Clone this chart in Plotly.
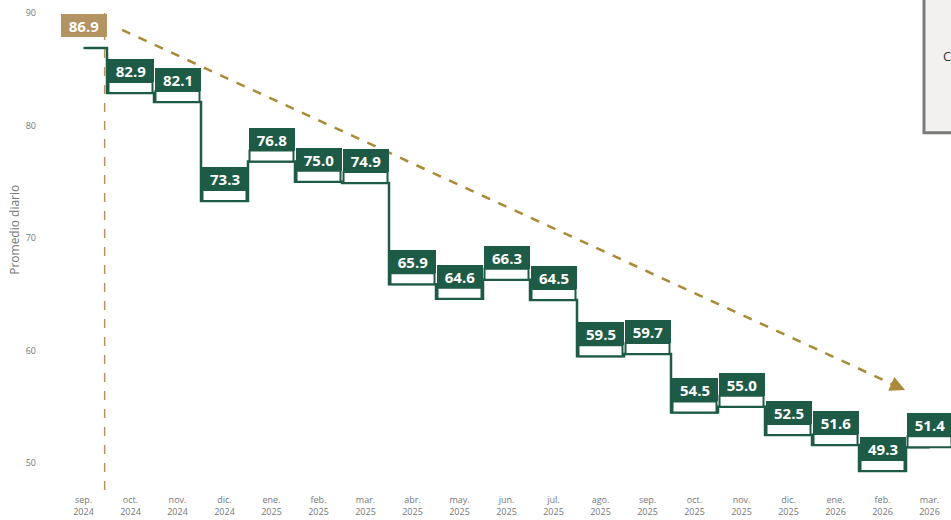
import plotly.graph_objects as go

months = ["sep.<br>2024", "oct.<br>2024", "nov.<br>2024", "dic.<br>2024", "ene.<br>2025",
          "feb.<br>2025", "mar.<br>2025", "abr.<br>2025", "may.<br>2025", "jun.<br>2025",
          "jul.<br>2025", "ago.<br>2025", "sep.<br>2025", "oct.<br>2025", "nov.<br>2025",
          "dic.<br>2025", "ene.<br>2026", "feb.<br>2026", "mar.<br>2026"]
values = [86.9, 82.9, 82.1, 73.3, 76.8, 75.0, 74.9, 65.9, 64.6, 66.3,
          64.5, 59.5, 59.7, 54.5, 55.0, 52.5, 51.6, 49.3, 51.4]
y_ticks = [50, 60, 70, 80, 90]
trend_x = [0.82, 17.48]
trend_y = [88.5, 56.5]

GREEN = "#1e5b46"
TAN = "#b39362"
GOLD = "#a88a37"

xs = list(range(len(values)))

fig = go.Figure()
fig.add_trace(go.Scatter(x=xs, y=values, mode="lines", line_shape="hvh",
                         line=dict(color=GREEN, width=2.5), hoverinfo="skip",
                         showlegend=False))

# separator dashed line between first and second month
fig.add_shape(type="line", xref="x", yref="paper", x0=0.45, x1=0.45, y0=0, y1=0.99,
              line=dict(color=TAN, width=1.5, dash="dash"))

# trend arrow (dashed)
fig.add_shape(type="line", xref="x", yref="y", x0=trend_x[0], y0=trend_y[0],
              x1=trend_x[1], y1=trend_y[1], line=dict(color=GOLD, width=2.5, dash="dash"))
fig.add_annotation(x=trend_x[1], y=trend_y[1], xref="x", yref="y", ax=-16, ay=-7,
                   axref="pixel", ayref="pixel", text="", showarrow=True,
                   arrowhead=2, arrowsize=1.2, arrowwidth=2.5, arrowcolor=GOLD)

for i, v in enumerate(values):
    if i == 0:
        col = TAN
    else:
        col = GREEN
        fig.add_shape(type="rect", xref="x", yref="y",
                      xsizemode="pixel", ysizemode="pixel",
                      xanchor=i, yanchor=v, x0=-22, x1=22, y0=0, y1=11,
                      line=dict(color=GREEN, width=2), fillcolor="white", layer="above")
    fig.add_annotation(x=i, y=v, xref="x", yref="y", text=f"<b>{v:.1f}</b>",
                       showarrow=False, yanchor="bottom", yshift=11,
                       font=dict(family="Open Sans", size=15, color="white"),
                       bgcolor=col, bordercolor=col, borderwidth=1, borderpad=1,
                       width=42, height=19)

# y-axis title
fig.add_annotation(xref="paper", yref="paper", x=-0.0505, y=0.531, text="Promedio diario",
                   textangle=-90, showarrow=False, xanchor="center", yanchor="middle",
                   font=dict(family="Open Sans", size=12, color="#777777"))

# partial panel at top-right edge
fig.add_shape(type="rect", xref="paper", yref="paper", x0=0.9697, x1=1.02, y0=0.729, y1=1.02,
              line=dict(color="#7a7a7a", width=3), fillcolor="#f2f1ef", layer="above")
fig.add_annotation(xref="paper", yref="paper", x=0.9955, y=0.908, text="C", showarrow=False,
                   xanchor="center", font=dict(family="Open Sans", size=13, color="#333333"))

fig.update_layout(
    width=951, height=520,
    margin=dict(l=60, r=0, t=0, b=30, autoexpand=False),
    paper_bgcolor="white", plot_bgcolor="white",
    font=dict(family="Open Sans", color="#777777"),
    xaxis=dict(range=[-0.5, 18.457], tickmode="array", tickvals=xs, ticktext=months,
               showgrid=False, zeroline=False, showline=False, ticks="",
               automargin=False, ticklabeloverflow="allow", ticklabelstandoff=3,
               tickfont=dict(size=9, color="#777777")),
    yaxis=dict(range=[47.6, 91.16], tickmode="array", tickvals=y_ticks,
               showgrid=False, zeroline=False, showline=False, ticks="",
               automargin=False, ticklabelstandoff=23, ticklabeloverflow="allow",
               tickfont=dict(size=9, color="#777777")),
)

fig.write_html("out.html", config={"displayModeBar": False},
               post_script="document.body.style.margin='0';")
